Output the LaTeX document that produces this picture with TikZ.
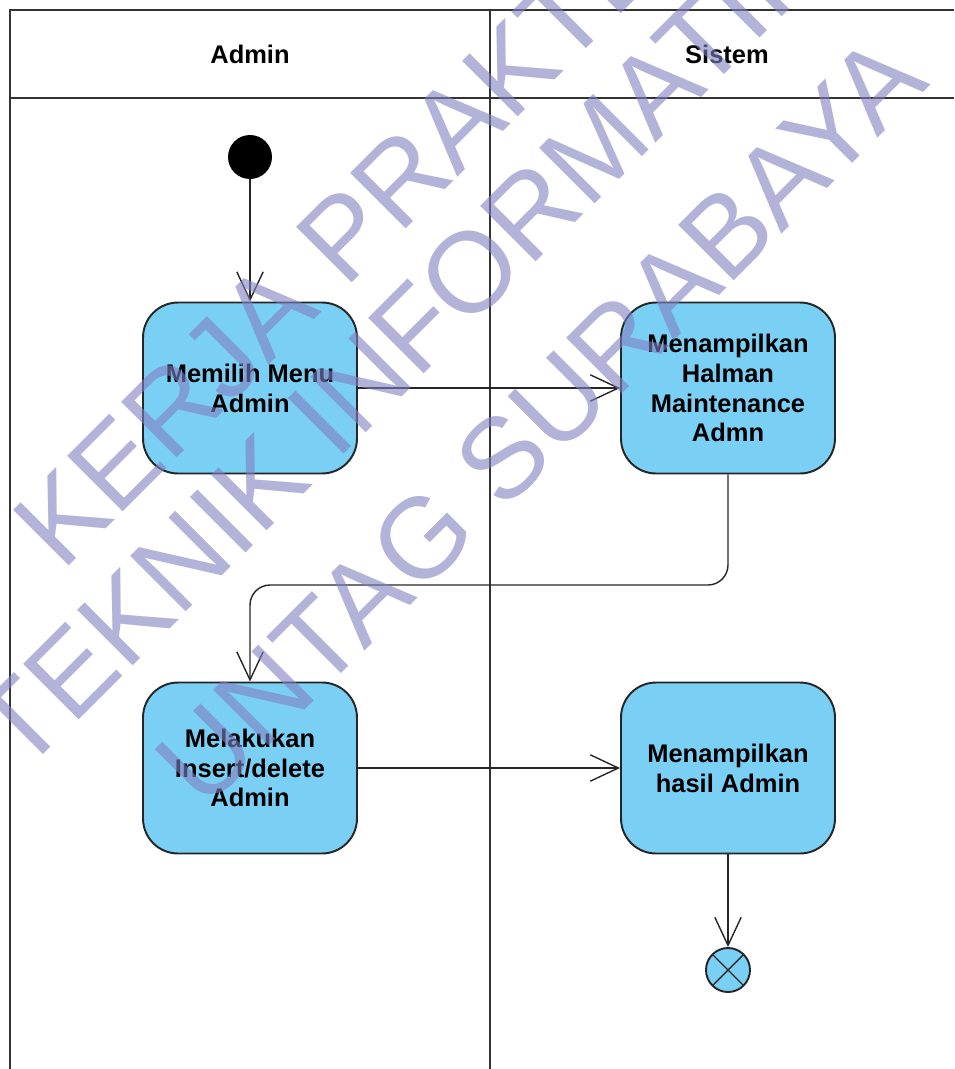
\documentclass[tikz,border=0pt]{standalone}
\usepackage{fontspec}
\setmainfont{Liberation Sans}
\usetikzlibrary{arrows.meta}
\definecolor{actblue}{RGB}{122,207,244}
\definecolor{wmark}{RGB}{128,128,193}
\tikzset{
  activity/.style={rectangle, rounded corners=0.7cm, draw=black!85, line width=1.1pt,
    fill=actblue, minimum width=4.28cm, minimum height=3.42cm, align=center,
    font=\fontsize{14.5}{17}\selectfont\bfseries},
  flow/.style={draw=black!85, line width=0.8pt,
    -{Straight Barb[length=16pt,width=15pt,line width=0.8pt]}},
  lane/.style={draw=black!80, line width=1.1pt},
  lanetitle/.style={font=\fontsize{14.5}{17}\selectfont\bfseries},
  wm/.style={text=wmark, opacity=0.6, rotate=45, inner sep=0pt,
    font=\fontsize{65}{70}\selectfont}
}
\begin{document}
\begin{tikzpicture}[x=0.02cm, y=-0.02cm]
    \useasboundingbox (0,0) rectangle (954,1069);

    % Swimlanes
    \draw[lane] (10,1069) -- (10,10) -- (954,10);
    \draw[lane] (10,98) -- (954,98);
    \draw[lane] (490,10) -- (490,1069);
    \node[lanetitle] (admin) at (250,54) {Admin};
    \node[lanetitle] (sistem) at (727,54) {Sistem};

    % Draw nodes
    \node[circle, fill=black, minimum size=0.88cm, inner sep=0pt] (start) at (250,157) {};
    \node[activity] (pilih) at (250,388) {Memilih Menu\\Admin};
    \node[activity] (tampil) at (728,388) {Menampilkan\\Halman\\Maintenance\\Admn};
    \node[activity] (insert) at (250,768) {Melakukan\\Insert/delete\\Admin};
    \node[activity] (hasil) at (728,768) {Menampilkan\\hasil Admin};
    \node[circle, draw=black!85, line width=1.1pt, fill=actblue, minimum size=0.88cm, inner sep=0pt,
      path picture={\draw[line width=0.8pt]
        (path picture bounding box.south west) -- (path picture bounding box.north east)
        (path picture bounding box.north west) -- (path picture bounding box.south east);}]
      (end) at (728,970) {};

    % Draw connections
    \coordinate (belok) at (490,585);
    \draw[flow] (start) -- (pilih);
    \draw[flow] (pilih) -- (tampil);
    \draw[flow, rounded corners=0.4cm] (tampil.south) |- (belok) -| (insert.north);
    \draw[flow] (insert) -- (hasil);
    \draw[flow] (hasil) -- (end);

    % Watermark
    \node[wm] (wm1) at (365,215) {KERJA PRAKTEK};
    \node[wm] (wm2) at (425,318) {TEKNIK INFORMATIKA};
    \node[wm] (wm3) at (540,420) {UNTAG SURABAYA};
\end{tikzpicture}
\end{document}
